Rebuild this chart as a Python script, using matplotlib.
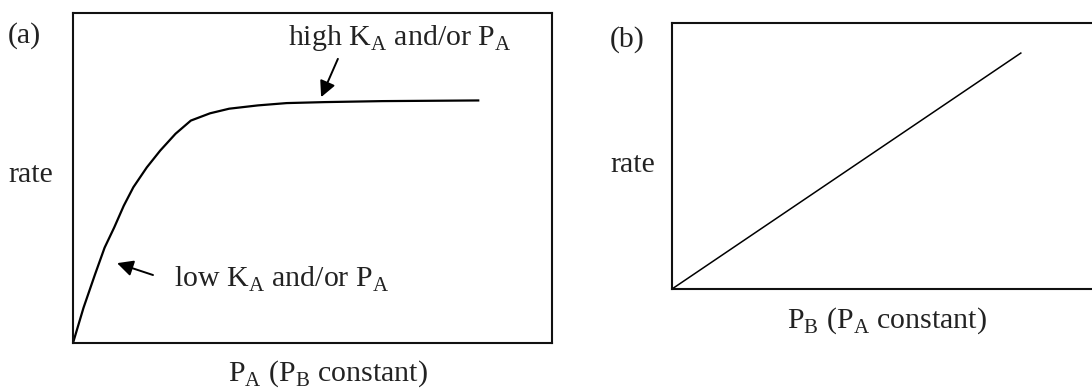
import matplotlib.pyplot as plt

plt.rcParams['font.family'] = 'Liberation Serif'
plt.rcParams['mathtext.fontset'] = 'custom'
plt.rcParams['mathtext.rm'] = 'Liberation Serif'

# (a) rate vs P_A: steep rise, then saturation
pa_x = [0.0, 0.22, 0.46, 0.66, 0.86, 1.06, 1.26, 1.54, 1.82, 2.14, 2.46,
        2.86, 3.26, 3.86, 4.46, 5.26, 6.46, 8.46]
pa_rate = [0.0, 1.07, 2.08, 2.89, 3.50, 4.16, 4.72, 5.32, 5.83, 6.34, 6.74,
           6.96, 7.10, 7.20, 7.27, 7.30, 7.33, 7.35]

# (b) rate vs P_B: straight line
pb_x = [0.0, 8.15]
pb_rate = [0.0, 8.87]

W, H = 1092, 388
fig = plt.figure(figsize=(W / 100, H / 100), dpi=100)


def px(x, y):
    return x / W, 1 - y / H


def style(ax):
    ax.set_xlim(0, 10)
    ax.set_ylim(0, 10)
    ax.set_xticks([])
    ax.set_yticks([])
    for s in ax.spines.values():
        s.set_linewidth(1.5)
        s.set_color('#111111')


fs = 21.5
ink = '#222222'

# panel (a)
ax1 = fig.add_axes([73 / W, 1 - 343 / H, 479 / W, 330 / H])
style(ax1)
ax1.plot(pa_x, pa_rate, color='black', lw=1.6, solid_joinstyle='round')
arrow = dict(arrowstyle='-|>', color='black', lw=1.4, mutation_scale=24,
             shrinkA=0, shrinkB=0)
ax1.annotate('', xy=(5.18, 7.45), xytext=(5.53, 8.61), arrowprops=arrow)
ax1.annotate('', xy=(0.92, 2.42), xytext=(1.67, 2.06), arrowprops=arrow)
ax1.text(4.49, 9.03, r'high K$_{\mathregular{A}}$ and/or P$_{\mathregular{A}}$',
         fontsize=fs, va='baseline', ha='left', color=ink)
ax1.text(2.1, 1.7, r'low K$_{\mathregular{A}}$ and/or P$_{\mathregular{A}}$',
         fontsize=fs, va='baseline', ha='left', color=ink)

fig.text(*px(8, 43), '(a)', fontsize=fs, va='baseline', ha='left', color=ink)
fig.text(*px(8, 182), 'rate', fontsize=fs, va='baseline', ha='left', color=ink)
fig.text(*px(328, 381), r'P$_{\mathregular{A}}$ (P$_{\mathregular{B}}$ constant)',
         fontsize=fs, va='baseline', ha='center', color=ink)

# panel (b), runs off the right edge of the figure
ax2 = fig.add_axes([672 / W, 1 - 289 / H, 428 / W, 266 / H])
style(ax2)
ax2.plot(pb_x, pb_rate, color='black', lw=1.1)

fig.text(*px(610, 47), '(b)', fontsize=fs, va='baseline', ha='left', color=ink)
fig.text(*px(610, 172), 'rate', fontsize=fs, va='baseline', ha='left', color=ink)
fig.text(*px(887, 328), r'P$_{\mathregular{B}}$ (P$_{\mathregular{A}}$ constant)',
         fontsize=fs, va='baseline', ha='center', color=ink)

fig.savefig('out.png', dpi=100)
